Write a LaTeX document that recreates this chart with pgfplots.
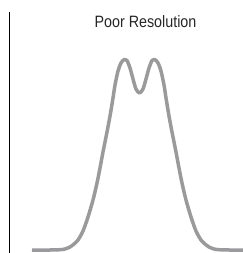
\documentclass[border=0pt]{standalone}
\usepackage{graphicx}
\usepackage{fontspec}
\setmainfont{Liberation Sans}
\usepackage{pgfplots}
\pgfplotsset{compat=1.18}
\definecolor{curvegray}{HTML}{9A9A9C}
\begin{document}
\begin{tikzpicture}
\useasboundingbox (-9.5bp,0) rectangle (233.5bp,253bp);
\begin{axis}[
  at={(0,0)}, anchor=south west,
  scale only axis,
  width=233.5bp, height=241bp,
  xmin=9.5, xmax=243, ymin=-3, ymax=238,
  axis x line=none,
  axis y line*=left,
  y axis line style={line width=1.1bp, black},
  ticks=none,
  clip=false,
]
\addplot[curvegray, line width=3.5bp, smooth, tension=0.5, line cap=butt, line join=round] coordinates {
(32,0) (50,0) (60,0.3) (65,1) (70,3) (74,6) (78,10) (83,19) (88,33) (93,50)
(97,67) (100,82) (103,98) (107,118) (110,134) (113,152) (115,165) (118,179)
(121,187) (123.5,190) (125,190.5) (127,189.5) (130,182) (133,171) (136,161)
(139.5,157) (143,161) (146,171) (149,182) (152,189.5) (154,190.5) (155.5,190)
(158,187) (161,179) (164,165) (166,152) (169,134) (172,118) (176,98) (179,82)
(182,67) (186,50) (191,33) (196,19) (201,10) (205,6) (209,3) (214,1) (219,0.3)
(229,0) (243,0)
};
\node[text=black!85, inner sep=0pt] at (axis cs:145.5,228) {\scalebox{0.87}[1]{\fontsize{16.5}{18}\selectfont Poor Resolution}};
\end{axis}
\end{tikzpicture}
\end{document}
